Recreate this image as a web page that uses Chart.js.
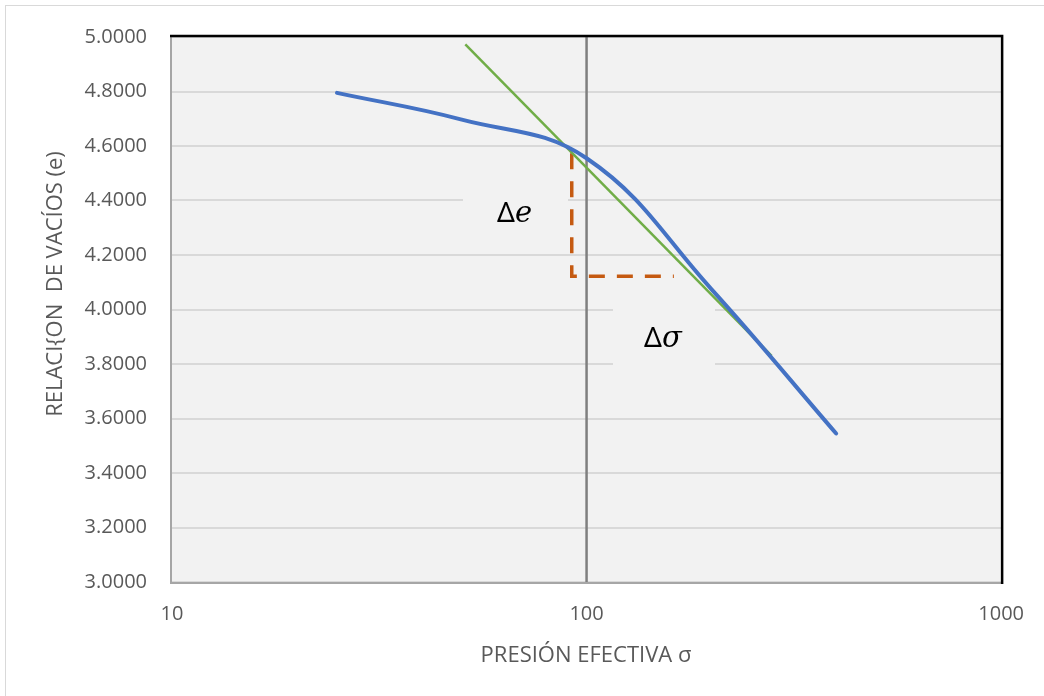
<!DOCTYPE html>
<html>
<head>
<meta charset="utf-8">
<script src="https://cdn.jsdelivr.net/npm/chart.js@4.4.1/dist/chart.umd.min.js"></script>
<style>
  html, body { margin: 0; padding: 0; background: #fff; }
  #wrap { width: 1044px; height: 696px; position: relative; }
</style>
</head>
<body>
<div id="wrap"><canvas id="chart" width="1044" height="696"></canvas></div>
<script>
// curve data: effective pressure vs void ratio
const pressure = [25, 50, 100, 200, 400];
const voidRatio = [4.795, 4.697, 4.555, 4.075, 3.545];

// tangent line (green)
const tangentX = [51, 279.5];
const tangentY = [4.973, 3.83];

// delta triangle (orange dashed)
const deltaX = [92.1, 92.1, 162.4];
const deltaY = [4.573, 4.122, 4.122];

// reference line at sigma = 100
const refX = [100, 100];
const refY = [3.0, 5.0];

const yTicks = [3.0, 3.2, 3.4, 3.6, 3.8, 4.0, 4.2, 4.4, 4.6, 4.8, 5.0];
const xTickLabels = [10, 100, 1000];

const toPts = (xs, ys) => xs.map((x, i) => ({ x: x, y: ys[i] }));

const textGrey = '#595959';

const excelLook = {
  id: 'excelLook',
  beforeDraw(chart) {
    const { ctx, chartArea: a } = chart;
    ctx.save();
    ctx.fillStyle = '#ffffff';
    ctx.fillRect(0, 0, chart.width, chart.height);
    // outer chart frame
    ctx.strokeStyle = '#d9d9d9';
    ctx.lineWidth = 1;
    ctx.strokeRect(5.5, 5.5, 1200, 1200);
    ctx.fillStyle = '#f2f2f2';
    ctx.fillRect(a.left, a.top, a.right - a.left, a.bottom - a.top);
    ctx.restore();
  },
  beforeDatasetsDraw(chart) {
    // label boxes hide the gridlines behind the text
    const { ctx } = chart;
    ctx.save();
    ctx.fillStyle = '#f2f2f2';
    ctx.fillRect(463, 176, 105, 77);
    ctx.fillRect(613, 300, 102, 70);
    ctx.restore();
  },
  afterDatasetsDraw(chart) {
    const { ctx, chartArea: a } = chart;
    ctx.save();
    // plot frame
    ctx.lineWidth = 2;
    ctx.strokeStyle = '#a6a6a6';
    ctx.beginPath();
    ctx.moveTo(a.left - 1, a.top);
    ctx.lineTo(a.left - 1, a.bottom + 1);
    ctx.lineTo(a.right, a.bottom + 1);
    ctx.stroke();
    ctx.strokeStyle = '#000000';
    ctx.lineWidth = 2.5;
    ctx.beginPath();
    ctx.moveTo(a.left - 2, a.top - 1);
    ctx.lineTo(a.right + 1, a.top - 1);
    ctx.lineTo(a.right + 1, a.bottom + 2);
    ctx.stroke();

    // delta labels
    ctx.fillStyle = '#000000';
    ctx.textBaseline = 'alphabetic';
    ctx.textAlign = 'left';
    ctx.font = '28px "Noto Sans"';
    ctx.fillText('Δ', 497, 222);
    ctx.fillText('Δ', 644, 347);
    ctx.font = 'italic 29px "DejaVu Serif"';
    ctx.fillText('e', 515, 222);
    ctx.fillText('σ', 662, 347);

    // axis titles
    ctx.fillStyle = textGrey;
    ctx.font = '22px "Open Sans"';
    ctx.textAlign = 'center';
    ctx.textBaseline = 'middle';
    ctx.fillText('PRESIÓN EFECTIVA σ', 586, 656);
    ctx.translate(56, 284);
    ctx.rotate(-Math.PI / 2);
    ctx.fillText('RELACI{ON  DE VACÍOS (e)', 0, 0);
    ctx.restore();
  }
};

new Chart(document.getElementById('chart'), {
  type: 'line',
  data: {
    datasets: [
      {
        label: 'e',
        data: toPts(pressure, voidRatio),
        borderColor: '#4472c4',
        borderWidth: 4,
        tension: 0.4,
        pointRadius: 0,
        borderCapStyle: 'round'
      },
      {
        label: 'tangente',
        data: toPts(tangentX, tangentY),
        borderColor: '#70ad47',
        borderWidth: 2.5,
        pointRadius: 0
      },
      {
        label: 'delta',
        data: toPts(deltaX, deltaY),
        borderColor: '#c55a11',
        borderWidth: 3.5,
        borderDash: [16, 12],
        pointRadius: 0
      },
      {
        label: 'ref',
        data: toPts(refX, refY),
        borderColor: '#7f7f7f',
        borderWidth: 2.5,
        pointRadius: 0
      }
    ]
  },
  options: {
    responsive: false,
    animation: false,
    layout: { padding: { top: 35, right: 41, left: 0, bottom: 0 } },
    plugins: {
      legend: { display: false },
      tooltip: { enabled: false }
    },
    scales: {
      x: {
        type: 'logarithmic',
        min: 10,
        max: 1000,
        z: 0,
        border: { display: false },
        grid: {
          color: '#f2f2f2',
          lineWidth: 2,
          drawTicks: false
        },
        ticks: {
          autoSkip: false,
          maxRotation: 0,
          padding: 20,
          color: textGrey,
          font: { family: '"Open Sans"', size: 20 },
          callback: (v) => xTickLabels.includes(v) ? String(v) : ''
        },
        afterFit: (s) => { s.height = 114; }
      },
      y: {
        type: 'linear',
        min: 3,
        max: 5,
        z: -1,
        border: { display: false },
        afterBuildTicks: (s) => { s.ticks = yTicks.map(v => ({ value: v })); },
        grid: {
          color: '#d9d9d9',
          lineWidth: 2,
          drawTicks: false
        },
        ticks: {
          padding: 25,
          color: textGrey,
          font: { family: '"Open Sans"', size: 20 },
          callback: (v) => Number(v).toFixed(4)
        },
        afterFit: (s) => { s.width = 172; }
      }
    }
  },
  plugins: [excelLook]
});
</script>
</body>
</html>
